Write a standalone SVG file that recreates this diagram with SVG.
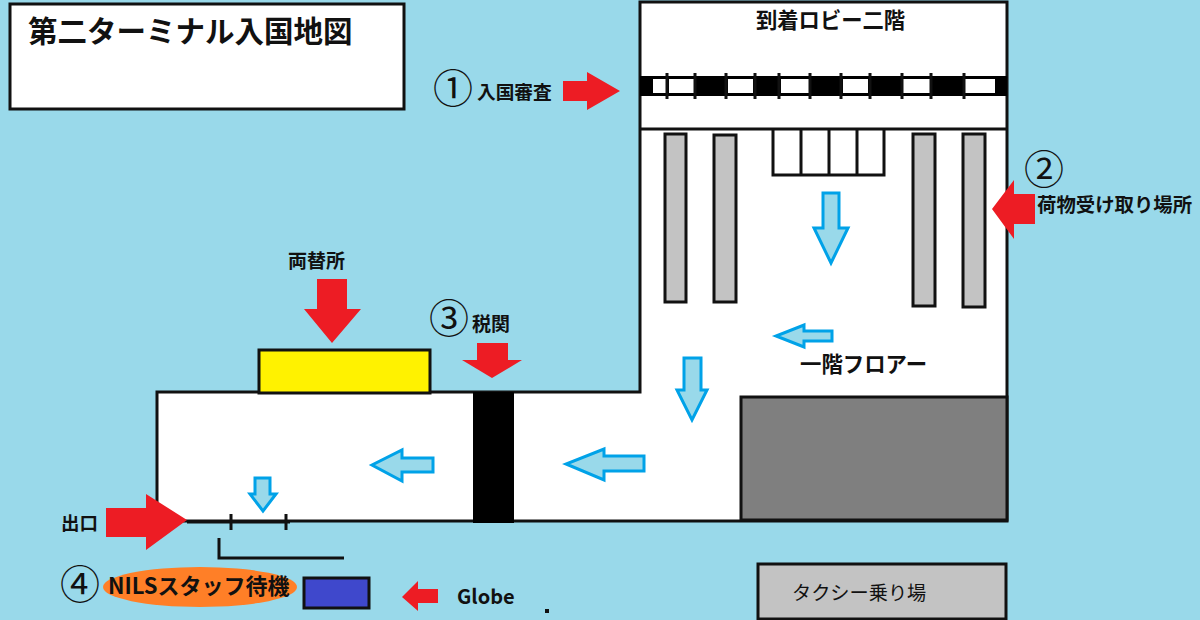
<svg xmlns="http://www.w3.org/2000/svg" width="1200" height="620" viewBox="0 0 1200 620">
<style>
text{font-family:"Noto Sans CJK JP","Liberation Sans",sans-serif;fill:#111}
.b{font-weight:700}
.red{fill:#ed1c24}
.blue{fill:#99d9ea;stroke:#00a2e8;stroke-width:3}
.gray{fill:#c3c3c3;stroke:#111;stroke-width:3}
.k{fill:none;stroke:#111;stroke-width:3}
.c{font-size:40px;font-weight:400}
</style>
<rect width="1200" height="620" fill="#99d9ea"/>
<g id="title"><rect x="10" y="4" width="394" height="105" fill="#fff" stroke="#111" stroke-width="3"/><text x="28" y="42" font-size="29.5" class="b">第二ターミナル入国地図</text></g>
<g id="building">
<path d="M640 2H1007V521H640V521H157V392H640Z" fill="#fff" stroke="#111" stroke-width="3"/>
<path d="M640 129H1007" class="k"/>
</g>
<g id="immigration">
<rect x="640" y="76" width="367" height="20" fill="#000"/>
<rect x="653" y="79" width="14" height="14" fill="#fff"/><rect x="669" y="79" width="26" height="14" fill="#fff"/><rect x="728" y="79" width="25" height="14" fill="#fff"/><rect x="781" y="79" width="28" height="14" fill="#fff"/><rect x="843" y="79" width="25" height="14" fill="#fff"/><rect x="903" y="79" width="27" height="14" fill="#fff"/><rect x="965" y="79" width="30" height="14" fill="#fff"/>
<path d="M667 73V99M695 73V99M726 73V99M755 73V99M779 73V99M810 73V99M841 73V99M870 73V99M902 73V99M931 73V99M964 73V99" stroke="#111" stroke-width="3"/>
<text x="756" y="28" font-size="21.3" class="b">到着ロビー二階</text>
</g>
<g id="carousels">
<rect x="665" y="134" width="21" height="168" class="gray"/><rect x="714" y="135" width="22" height="167" class="gray"/><rect x="913" y="134" width="22" height="172" class="gray"/><rect x="963" y="134" width="22" height="173" class="gray"/>
<path d="M773 130V175H884V130M801 130V175M829 130V175M857 130V175" class="k"/>
</g>
<g id="taxi-hall"><rect x="741" y="397" width="266" height="123" fill="#7f7f7f" stroke="#111" stroke-width="3"/></g>
<g id="exchange"><rect x="259" y="350" width="171" height="43" fill="#fff200" stroke="#111" stroke-width="3"/><text x="288" y="268" font-size="19" class="b">両替所</text></g>
<g id="customs"><rect x="473" y="392" width="41" height="131" fill="#000"/><text x="429" y="333" class="c">③</text><text x="472" y="331" font-size="19" class="b">税関</text></g>
<g id="exit-door"><path d="M187 522H290M231 514V530M286 514V530" class="k"/><path d="M219 538V558H344" class="k"/><text x="61" y="530" font-size="18.5" class="b">出口</text></g>
<g id="nils"><ellipse cx="200" cy="587" rx="97" ry="20" fill="#ff7f27"/><text x="60" y="599" class="c">④</text><text x="108" y="594" font-size="22" class="b">NILSスタッフ待機</text></g>
<g id="globe"><rect x="304" y="578" width="65" height="30" fill="#3f48cc" stroke="#111" stroke-width="3"/><text x="457" y="604" font-size="20" class="b">Globe</text></g>
<g id="taxi"><rect x="758" y="564" width="248" height="55" fill="#c3c3c3" stroke="#111" stroke-width="3"/><text x="792" y="600" font-size="19.2">タクシー乗り場</text></g>
<g id="labels">
<text x="433" y="103" class="c">①</text><text x="477" y="99" font-size="18.7" class="b">入国審査</text>
<text x="1024" y="184" class="c">②</text><text x="1037" y="212" font-size="19.4" class="b">荷物受け取り場所</text>
<text x="800" y="372" font-size="21.4" class="b">一階フロアー</text>
<rect x="545" y="609" width="4" height="4" fill="#111"/>
</g>
<g id="connectors">
<path class="red" d="M563 81H587V72L620 91 587 110V101H563Z"/>
<path class="red" d="M1035 194H1014V180L992 209 1014 239V224H1035Z"/>
<path class="red" d="M317 279H347V309H361L332 343 304 309H317Z"/>
<path class="red" d="M477 343H508V360H522L492 378 462 360H477Z"/>
<path class="red" d="M106 508H146V494L187 520 146 550V537H106Z"/>
<path class="red" d="M438 589H418V581L402 597 418 611V603H438Z"/>
<path class="blue" d="M823 193H839V228H848L831 263 814 228H823Z"/>
<path class="blue" d="M832 331H804V325L776 336 804 347V341H832Z"/>
<path class="blue" d="M684 358H701V390H707L692 420 677 390H684Z"/>
<path class="blue" d="M644 456H604V449L566 464 604 480V471H644Z"/>
<path class="blue" d="M433 458H402V450L372 465 402 481V472H433Z"/>
<path class="blue" d="M255 478H270V494H276L263 511 250 494H255Z"/>
</g>
</svg>
